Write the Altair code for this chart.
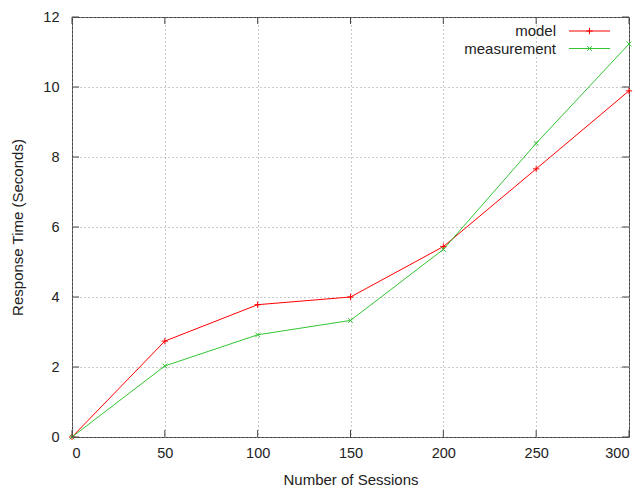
import altair as alt
import pandas as pd

sessions = [0, 50, 100, 150, 200, 250, 300]
model = [0, 2.74, 3.78, 4.00, 5.44, 7.66, 9.89]
measurement = [0, 2.03, 2.92, 3.33, 5.36, 8.39, 11.23]

series_names = ["model", "measurement"]
series_colors = ["#ff0000", "#33c433"]
plus_path = "M-1,0L1,0M0,-1L0,1"
x_path = "M-0.75,-0.75L0.75,0.75M-0.75,0.75L0.75,-0.75"

x_ticks = [0, 50, 100, 150, 200, 250, 300]
y_ticks = [0, 2, 4, 6, 8, 10, 12]

W, H = 557, 420
FONT = "Liberation Sans"
TXT = "#222222"

rows = []
for s, m, e in zip(sessions, model, measurement):
    rows.append({"sessions": s, "value": m, "series": "model"})
    rows.append({"sessions": s, "value": e, "series": "measurement"})
df = pd.DataFrame(rows)

xscale = alt.Scale(domain=[0, 300], nice=False, zero=False)
yscale = alt.Scale(domain=[0, 12], nice=False)

xax = alt.Axis(values=x_ticks, grid=True, gridDash=[1, 3], gridColor="#999999",
               gridWidth=1, ticks=False, tickSize=0, domain=False,
               labelFont=FONT, labelFontSize=14.5, labelColor=TXT, labelPadding=9,
               titleFont=FONT, titleFontSize=15, titleFontWeight="normal",
               titleColor=TXT, titlePadding=13, title="Number of Sessions")
yax = alt.Axis(values=y_ticks, grid=True, gridDash=[1, 3], gridColor="#999999",
               gridWidth=1, ticks=False, tickSize=0, domain=False,
               labelFont=FONT, labelFontSize=14.5, labelColor=TXT, labelPadding=13,
               titleFont=FONT, titleFontSize=15, titleFontWeight="normal",
               titleColor=TXT, titlePadding=17, title="Response Time (Seconds)")

color = alt.Color("series:N", scale=alt.Scale(domain=series_names, range=series_colors), legend=None)
shape = alt.Shape("series:N", scale=alt.Scale(domain=series_names, range=[plus_path, x_path]), legend=None)

base = alt.Chart(df)
lines = base.mark_line(strokeWidth=1).encode(
    x=alt.X("sessions:Q", scale=xscale, axis=xax),
    y=alt.Y("value:Q", scale=yscale, axis=yax),
    color=color,
    detail="series:N",
)
points = base.mark_point(filled=False, size=40, strokeWidth=1, opacity=1).encode(
    x=alt.X("sessions:Q", scale=xscale),
    y=alt.Y("value:Q", scale=yscale),
    color=color,
    shape=shape,
)

xt = pd.DataFrame({"t": x_ticks})
yt = pd.DataFrame({"t": y_ticks})
tick_color = "#444444"
xt_bot = alt.Chart(xt).mark_rule(color=tick_color, strokeWidth=1).encode(
    x=alt.X("t:Q", scale=xscale), y=alt.value(H), y2=alt.value(H - 7))
xt_top = alt.Chart(xt).mark_rule(color=tick_color, strokeWidth=1).encode(
    x=alt.X("t:Q", scale=xscale), y=alt.value(0), y2=alt.value(7))
yt_left = alt.Chart(yt).mark_rule(color=tick_color, strokeWidth=1).encode(
    y=alt.Y("t:Q", scale=yscale), x=alt.value(0), x2=alt.value(7))
yt_right = alt.Chart(yt).mark_rule(color=tick_color, strokeWidth=1).encode(
    y=alt.Y("t:Q", scale=yscale), x=alt.value(W), x2=alt.value(W - 7))

legend_layers = []
leg_y = [14, 31.5]
for name, col, shp, ly in zip(series_names, series_colors, [plus_path, x_path], leg_y):
    d = pd.DataFrame({"series": [name]})
    legend_layers.append(alt.Chart(d).mark_text(align="right", baseline="middle", font=FONT,
                                                fontSize=15, color=TXT).encode(
        text="series:N", x=alt.value(484), y=alt.value(ly)))
    legend_layers.append(alt.Chart(d).mark_rule(color=col, strokeWidth=1).encode(
        x=alt.value(497), x2=alt.value(538), y=alt.value(ly)))
    legend_layers.append(alt.Chart(d).mark_point(shape=shp, filled=False, size=40, strokeWidth=1,
                                                 color=col, opacity=1).encode(
        x=alt.value(517.5), y=alt.value(ly)))

chart = alt.layer(lines, points, xt_bot, xt_top, yt_left, yt_right, *legend_layers).properties(
    width=W, height=H,
    autosize=alt.AutoSizeParams(type="none"),
    padding={"left": 72, "top": 17, "right": 12, "bottom": 53},
    background="white",
).configure_view(stroke="#444444", strokeWidth=1)

chart.save("out.html", embed_options={"renderer": "svg", "actions": False})
